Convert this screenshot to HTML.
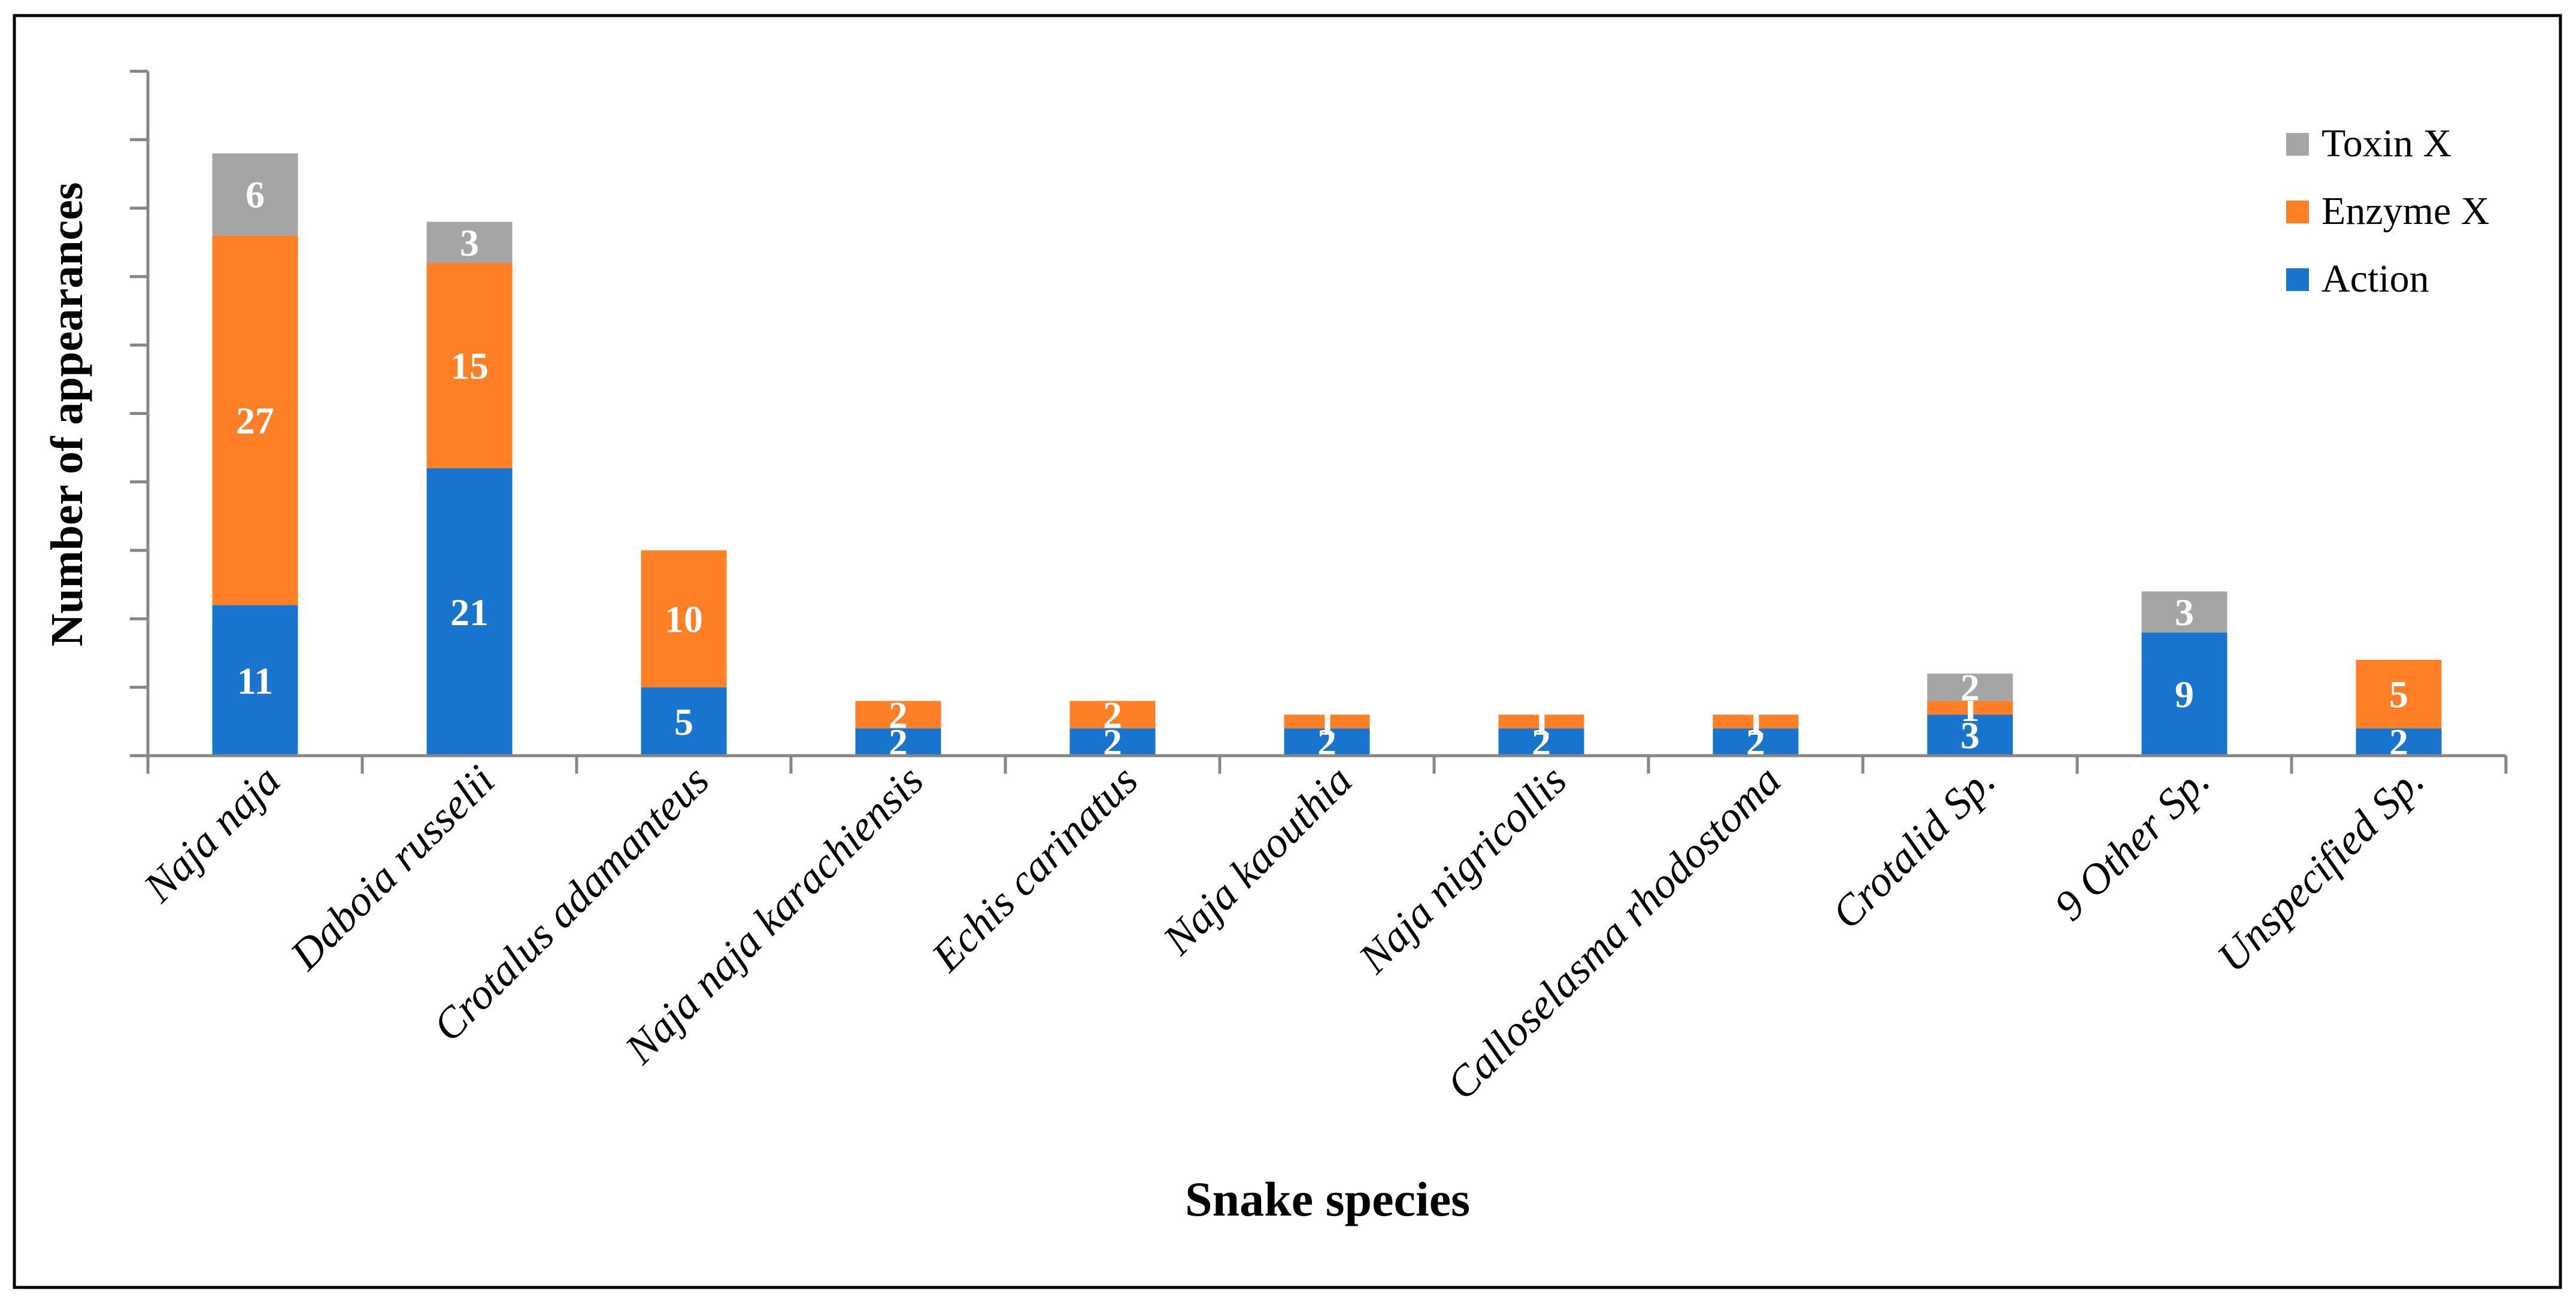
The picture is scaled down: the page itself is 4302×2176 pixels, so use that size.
<!DOCTYPE html>
<html><head><meta charset="utf-8"><style>
html,body{margin:0;padding:0;background:#fff}
svg{display:block}
text{font-family:"Liberation Serif",serif}
</style></head><body>
<svg id="chart" width="4302" height="2176" viewBox="0 0 4302 2176" xmlns="http://www.w3.org/2000/svg">
<rect x="24" y="26" width="4252" height="2124" fill="#fff" stroke="#000" stroke-width="5"/>
<g id="plot"></g>
<text transform="translate(137,692) rotate(-90)" text-anchor="middle" font-size="76" font-weight="bold">Number of appearances</text>
<text x="2217" y="2030" text-anchor="middle" font-size="82" font-weight="bold">Snake species</text>
<g>
<rect x="3818" y="222" width="38" height="38" fill="#A5A5A5"/>
<text x="3877" y="261" font-size="66">Toxin X</text>
<rect x="3818" y="335" width="38" height="38" fill="#FF7F27"/>
<text x="3877" y="374" font-size="66">Enzyme X</text>
<rect x="3818" y="448" width="38" height="38" fill="#1874CD"/>
<text x="3877" y="487" font-size="66">Action</text>
</g>
</svg>
<script>
const categories=["Naja naja","Daboia russelii","Crotalus adamanteus","Naja naja karachiensis","Echis carinatus","Naja kaouthia","Naja nigricollis","Calloselasma rhodostoma","Crotalid Sp.","9 Other Sp.","Unspecified Sp."];
const actionValues=[11,21,5,2,2,2,2,2,3,9,2];
const enzymeValues=[27,15,10,2,2,1,1,1,1,0,5];
const toxinValues=[6,3,0,0,0,0,0,0,2,3,0];
const yTicks=[0,5,10,15,20,25,30,35,40,45,50];
const NS="http://www.w3.org/2000/svg";
const x0=247,x1=4185,y0=1262,yMax=50,yTop=119;
const bw=(x1-x0)/categories.length;
function yScale(v){return y0-(v/yMax)*(y0-yTop);}
function xCenter(i){return x0+bw*(i+0.5);}
const g=document.getElementById('plot');
function el(tag,attrs,parent){const e=document.createElementNS(NS,tag);for(const k in attrs)e.setAttribute(k,attrs[k]);(parent||g).appendChild(e);return e;}
const ya=el('line',{x1:x0,y1:yTop,x2:x0,y2:y0,stroke:'#868686','stroke-width':5});


yTicks.forEach(t=>{const l=el('line',{x1:x0-30,y1:yScale(t),x2:x0,y2:yScale(t),stroke:'#868686','stroke-width':5});

});
const series=[{v:actionValues,c:'#1874CD',n:'action'},{v:enzymeValues,c:'#FF7F27',n:'enzyme'},{v:toxinValues,c:'#A5A5A5',n:'toxin'}];
const barW=143;
categories.forEach((cat,i)=>{
  let base=0;
  series.forEach(s=>{
    const v=s.v[i];
    if(v>0){
      const yt=yScale(base+v),yb=yScale(base);
      const r=el('rect',{x:xCenter(i)-barW/2,y:yt,width:barW,height:yb-yt,fill:s.c});
      
      
      const t=el('text',{x:xCenter(i),y:(yt+yb)/2+22,'text-anchor':'middle','font-size':64,'font-weight':'bold',fill:'#fff'});
      t.textContent=v;
      
      
    }
    base+=v;
  });
  const lb=el('text',{transform:`translate(${xCenter(i)+46},${y0+46}) rotate(-45)`,'text-anchor':'end','font-size':72,'font-style':'italic'});
  lb.textContent=cat;
  
  
});
const xa=el('line',{x1:x0-30,y1:y0,x2:x1,y2:y0,stroke:'#868686','stroke-width':5});


for(let i=0;i<=categories.length;i++){const l=el('line',{x1:x0+bw*i,y1:y0,x2:x0+bw*i,y2:y0+30,stroke:'#868686','stroke-width':5});

}
</script>
</body></html>
